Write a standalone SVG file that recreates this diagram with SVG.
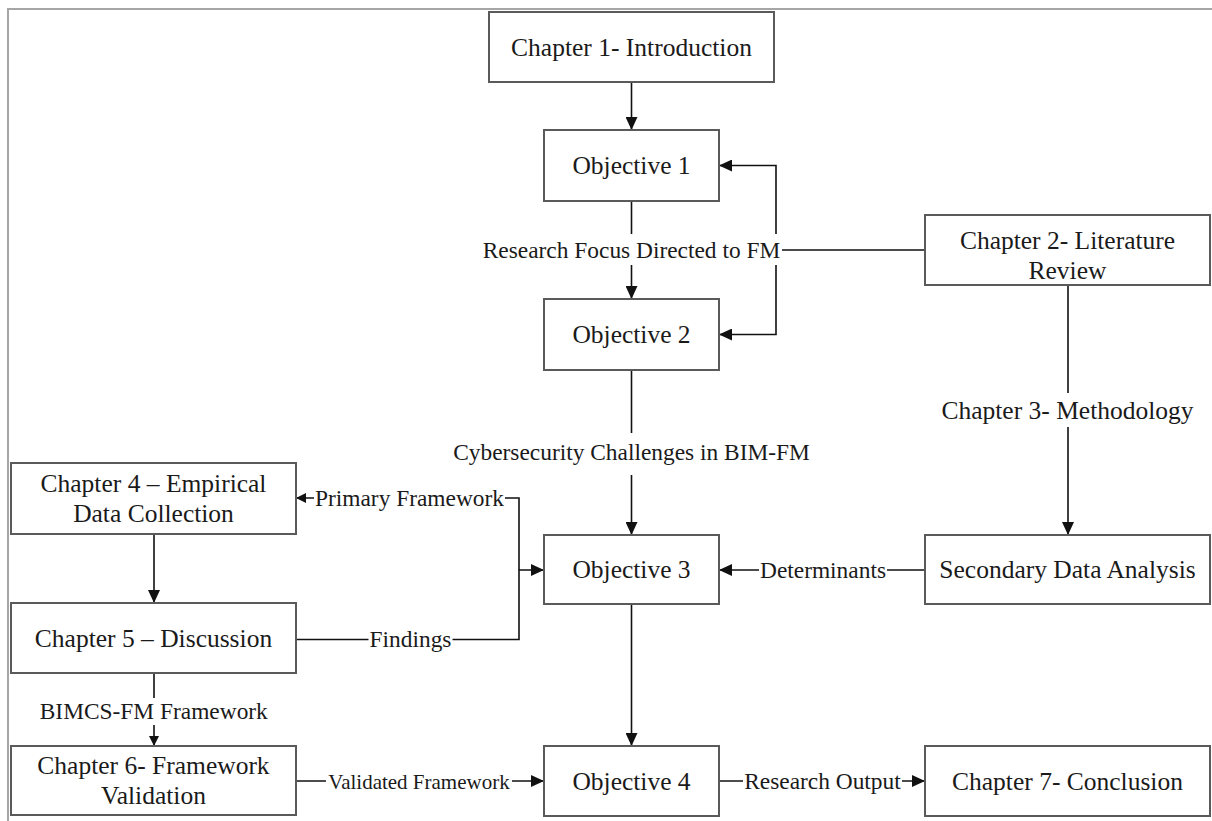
<svg xmlns="http://www.w3.org/2000/svg" width="1212" height="821" viewBox="0 0 1212 821">
<style>
.frame{fill:none;stroke:#a6a6a6;stroke-width:2}
.box{fill:#fff;stroke:#5a5a5a;stroke-width:2}
.conn{fill:none;stroke:#111;stroke-width:1.6}
.lbg{fill:#fff}
text{font-family:"Liberation Serif","Times New Roman",serif;fill:#1a1a1a;text-anchor:middle}
.t{font-size:25.5px}
.l{font-size:23.4px}
</style>
<defs>
<marker id="ah" markerUnits="userSpaceOnUse" markerWidth="13" markerHeight="12" refX="13" refY="6" orient="auto">
<path d="M0,0 L13,6 L0,12 z" fill="#111"/>
</marker>
<marker id="ahs" markerUnits="userSpaceOnUse" markerWidth="10" markerHeight="10" refX="10" refY="5" orient="auto">
<path d="M0,0 L10,5 L0,10 z" fill="#111"/>
</marker>
</defs>
<rect width="1212" height="821" fill="#fff"/>
<rect class="frame" x="8" y="9" width="1230" height="840"/>

<g id="connectors">
<path class="conn" d="M631.5,82 V130" marker-end="url(#ah)"/>
<path class="conn" d="M631.5,201 V299" marker-end="url(#ah)"/>
<path class="conn" d="M925,250 H776 V165.5 H719" marker-end="url(#ah)"/>
<path class="conn" d="M776,250 V334.5 H719" marker-end="url(#ah)"/>
<path class="conn" d="M631.5,370 V535" marker-end="url(#ah)"/>
<path class="conn" d="M1068,285 V535" marker-end="url(#ah)"/>
<path class="conn" d="M925,570 H719" marker-end="url(#ah)"/>
<path class="conn" d="M631.5,604 V746" marker-end="url(#ah)"/>
<path class="conn" d="M719,781 H925" marker-end="url(#ah)"/>
<path class="conn" d="M519,570 V498 H296" marker-end="url(#ahs)"/>
<path class="conn" d="M296,639.5 H519 V570 H544" marker-end="url(#ah)"/>
<path class="conn" d="M154,534 V603" marker-end="url(#ah)"/>
<path class="conn" d="M154,673 V746" marker-end="url(#ahs)"/>
<path class="conn" d="M296,781 H544" marker-end="url(#ah)"/>

<rect class="lbg" x="482" y="234" width="300" height="31"/>
<text class="l" x="631.5" y="257.5">Research Focus Directed to FM</text>
<rect class="lbg" x="452" y="433" width="359" height="42"/>
<text class="l" x="631.5" y="459.5">Cybersecurity Challenges in BIM-FM</text>
<rect class="lbg" x="940" y="393" width="255" height="34"/>
<text class="t" x="1067.5" y="418.5">Chapter 3- Methodology</text>
<rect class="lbg" x="759" y="557" width="128" height="26"/>
<text class="l" x="823" y="577.5">Determinants</text>
<rect class="lbg" x="743" y="768" width="159" height="26"/>
<text class="l" x="822.5" y="788.5">Research Output</text>
<rect class="lbg" x="314" y="485" width="191" height="26"/>
<text class="l" x="409.5" y="505.5">Primary Framework</text>
<rect class="lbg" x="368.5" y="626" width="84" height="26"/>
<text class="l" x="410.5" y="647">Findings</text>
<rect class="lbg" x="39" y="698" width="230" height="27"/>
<text class="l" x="153.8" y="719">BIMCS-FM Framework</text>
<rect class="lbg" x="326" y="768" width="186" height="26"/>
<text x="419" y="788.5" font-size="21">Validated Framework</text>
</g>

<g id="ch1"><rect class="box" x="489" y="12" width="285" height="70"/><text class="t" x="631.5" y="55.5">Chapter 1- Introduction</text></g>
<g id="obj1"><rect class="box" x="544" y="130" width="175" height="71"/><text class="t" x="631.5" y="174">Objective 1</text></g>
<g id="obj2"><rect class="box" x="544" y="299" width="175" height="71"/><text class="t" x="631.5" y="343">Objective 2</text></g>
<g id="ch2"><rect class="box" x="925" y="215" width="285" height="70"/><text class="t" x="1067.5" y="249">Chapter 2- Literature</text><text class="t" x="1067.5" y="279">Review</text></g>
<g id="sec"><rect class="box" x="925" y="535" width="285" height="69"/><text class="t" x="1067.5" y="578">Secondary Data Analysis</text></g>
<g id="obj3"><rect class="box" x="544" y="535" width="175" height="69"/><text class="t" x="631.5" y="578">Objective 3</text></g>
<g id="obj4"><rect class="box" x="544" y="746" width="175" height="70"/><text class="t" x="631.5" y="789.5">Objective 4</text></g>
<g id="ch7"><rect class="box" x="925" y="746" width="285" height="70"/><text class="t" x="1067.5" y="789.5">Chapter 7- Conclusion</text></g>
<g id="ch4"><rect class="box" x="11" y="463" width="285" height="71"/><text class="t" x="153.5" y="492">Chapter 4 – Empirical</text><text class="t" x="153.5" y="522">Data Collection</text></g>
<g id="ch5"><rect class="box" x="11" y="603" width="285" height="70"/><text class="t" x="153.5" y="646.5">Chapter 5 – Discussion</text></g>
<g id="ch6"><rect class="box" x="11" y="746" width="285" height="69"/><text class="t" x="153.5" y="773.5">Chapter 6- Framework</text><text class="t" x="153.5" y="803.5">Validation</text></g>
</svg>
